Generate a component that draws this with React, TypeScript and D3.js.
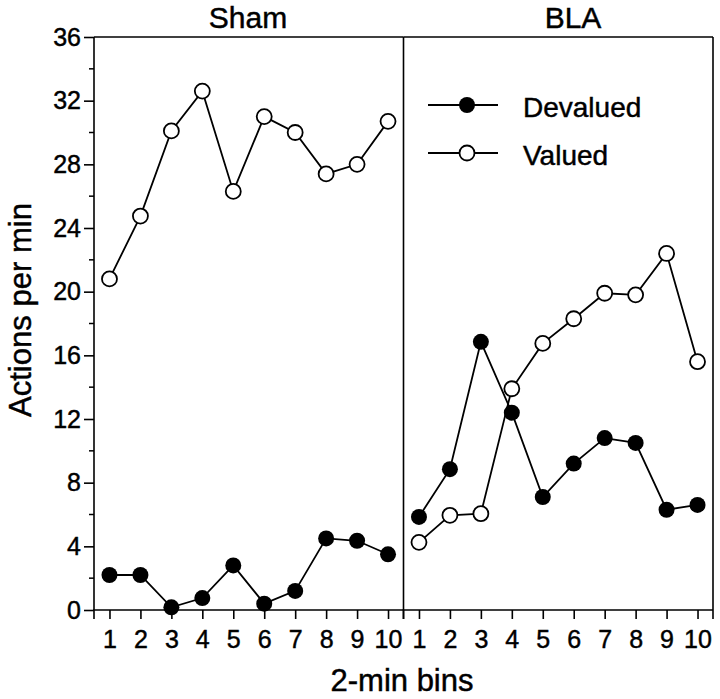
import React, { useEffect, useRef } from 'react';
import * as d3 from 'd3';

const bins = [1, 2, 3, 4, 5, 6, 7, 8, 9, 10];
const yTicks = [0, 4, 8, 12, 16, 20, 24, 28, 32, 36];
const yMinorTicks = [2, 6, 10, 14, 18, 22, 26, 30, 34];

const shamDevalued = [2.2, 2.2, 0.17, 0.75, 2.8, 0.4, 1.2, 4.5, 4.35, 3.5];
const shamValued = [20.8, 24.75, 30.1, 32.6, 26.3, 31.0, 30.0, 27.4, 28.0, 30.7];
const blaDevalued = [5.85, 8.85, 16.85, 12.4, 7.1, 9.2, 10.8, 10.5, 6.3, 6.6];
const blaValued = [4.25, 5.95, 6.05, 13.9, 16.75, 18.3, 19.9, 19.8, 22.4, 15.6];

const panels = [
  { name: 'Sham', devalued: shamDevalued, valued: shamValued },
  { name: 'BLA', devalued: blaDevalued, valued: blaValued }
];

const FONT = "'Liberation Sans', Arial, Helvetica, sans-serif";

const App = () => {
  const svgRef = useRef<SVGSVGElement>(null);

  useEffect(() => {
    const svg = d3.select(svgRef.current);
    svg.selectAll('*').remove();

    const left = 94;
    const top = 37;
    const bottom = 610;
    const panelWidth = 309.5;

    const y = d3.scaleLinear().domain([0, 36]).range([bottom, top]);

    const g = svg.append('g').style('font-family', FONT);

    // slightly heavier text, like the printed figure
    const heavy = (sel: any) => sel
      .attr('fill', '#000')
      .attr('stroke', '#000')
      .attr('stroke-width', 0.45);

    panels.forEach((p, i) => {
      const x0 = left + i * panelWidth;
      const x = d3.scaleLinear().domain([0.5, 10.5]).range([x0, x0 + panelWidth]);

      // frame pieces
      g.append('line')
        .attr('x1', x0).attr('x2', x0 + panelWidth)
        .attr('y1', top).attr('y2', top)
        .attr('stroke', '#000').attr('stroke-width', 1.6);
      g.append('line')
        .attr('x1', x0 + panelWidth).attr('x2', x0 + panelWidth)
        .attr('y1', top).attr('y2', bottom + 9)
        .attr('stroke', '#000').attr('stroke-width', 1.6);

      // x axis
      const xAxis = g.append('g')
        .attr('transform', `translate(0,${bottom})`)
        .call(d3.axisBottom(x).tickValues(bins).tickSize(9).tickPadding(11).tickFormat(d3.format('d')));
      xAxis.select('.domain').attr('stroke-width', 1.6).attr('d', `M${x0},0V9V0H${x0 + panelWidth}`);
      xAxis.selectAll('.tick line').attr('stroke-width', 1.6);
      xAxis.selectAll('text')
        .style('font-size', '25px')
        .style('font-family', FONT)
        .call(heavy);

      // title
      g.append('text')
        .attr('x', i === 0 ? 248 : 573)
        .attr('y', 28)
        .attr('text-anchor', 'middle')
        .style('font-size', '30px')
        .call(heavy)
        .text(p.name);

      const line = d3.line<number>()
        .x((_, j) => x(bins[j]))
        .y(d => y(d));

      g.append('path')
        .datum(p.valued)
        .attr('d', line)
        .attr('fill', 'none')
        .attr('stroke', '#000')
        .attr('stroke-width', 1.8);
      g.append('path')
        .datum(p.devalued)
        .attr('d', line)
        .attr('fill', 'none')
        .attr('stroke', '#000')
        .attr('stroke-width', 1.8);

      g.selectAll(`.dev${i}`)
        .data(p.devalued)
        .enter().append('circle')
        .attr('cx', (_, j) => x(bins[j]))
        .attr('cy', d => y(d))
        .attr('r', 8)
        .attr('fill', '#000');

      g.selectAll(`.val${i}`)
        .data(p.valued)
        .enter().append('circle')
        .attr('cx', (_, j) => x(bins[j]))
        .attr('cy', d => y(d))
        .attr('r', 7.5)
        .attr('fill', '#fff')
        .attr('stroke', '#000')
        .attr('stroke-width', 1.8);
    });

    // y axis
    const yAxis = g.append('g')
      .attr('transform', `translate(${left},0)`)
      .call(d3.axisLeft(y).tickValues(yTicks).tickSize(10).tickPadding(3));
    yAxis.select('.domain').attr('stroke-width', 1.6).attr('d', `M0,${top}V${bottom}`);
    yAxis.selectAll('.tick line').attr('stroke-width', 1.6);
    yAxis.selectAll('text')
      .style('font-size', '25px')
      .style('font-family', FONT)
      .call(heavy);

    g.append('g')
      .selectAll('line')
      .data(yMinorTicks)
      .enter().append('line')
      .attr('x1', left - 5).attr('x2', left)
      .attr('y1', d => y(d)).attr('y2', d => y(d))
      .attr('stroke', '#000').attr('stroke-width', 1.5);

    // axis labels
    g.append('text')
      .attr('transform', `translate(31,310) rotate(-90)`)
      .attr('text-anchor', 'middle')
      .attr('textLength', 214)
      .attr('lengthAdjust', 'spacingAndGlyphs')
      .style('font-size', '32px')
      .call(heavy)
      .text('Actions per min');

    g.append('text')
      .attr('x', 402)
      .attr('y', 691)
      .attr('text-anchor', 'middle')
      .style('font-size', '31px')
      .call(heavy)
      .text('2-min bins');

    // legend
    const legend = [
      { label: 'Devalued', filled: true, y: 105 },
      { label: 'Valued', filled: false, y: 153 }
    ];
    legend.forEach(l => {
      g.append('line')
        .attr('x1', 428).attr('x2', 498)
        .attr('y1', l.y).attr('y2', l.y)
        .attr('stroke', '#000').attr('stroke-width', 1.8);
      g.append('circle')
        .attr('cx', 467).attr('cy', l.y)
        .attr('r', l.filled ? 8 : 7.5)
        .attr('fill', l.filled ? '#000' : '#fff')
        .attr('stroke', '#000').attr('stroke-width', l.filled ? 0 : 1.8);
      g.append('text')
        .attr('x', 523).attr('y', l.y + 12)
        .style('font-size', '28px')
        .call(heavy)
        .text(l.label);
    });
  }, []);

  return (
    <svg
      ref={svgRef}
      width={720}
      height={699}
      style={{ position: 'absolute', left: 0, top: 0, background: '#fff' }}
    />
  );
};

export default App;
